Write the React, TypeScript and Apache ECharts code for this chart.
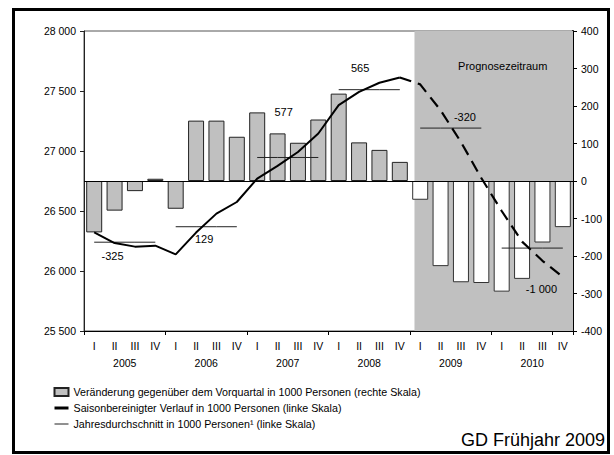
import React, { useEffect, useRef } from 'react';
import * as echarts from 'echarts';

// ---------- data ----------
const quarterLabels = ['I', 'II', 'III', 'IV'];
const years = ['2005', '2006', '2007', '2008', '2009', '2010'];
const forecastStartIndex = 16; // 2009 I
const shadeStart = 16.22; // x position (in quarters) where the forecast shading begins
const shadeEnd = 24;

// change vs previous quarter, 1000 persons (right axis)
const changeValues = [
  -137, -79, -27, 6,
  -74, 161, 161, 118,
  183, 127, 102, 164,
  233, 103, 83, 51,
  -50, -227, -270, -272,
  -295, -261, -164, -123,
];

// seasonally adjusted level, 1000 persons (left axis)
const levelHistory = [
  26322, 26233, 26203, 26211,
  26139, 26320, 26478, 26575,
  26770, 26876, 26992, 27146,
  27382, 27493, 27569, 27613,
];
const levelForecast = [
  27555, 27340, 27075, 26775,
  26500, 26245, 26085, 25950,
];

// annual averages (left axis) and their annotated change
const annualAvg = [26240, 26369, 26946, 27511, 27191, 26191];
const annualChangeLabels = ['-325', '129', '577', '565', '-320', '-1 000'];

// ---------- layout of annotation labels (style only) ----------
const avgLabelLayout = [
  { q: 1, pos: 'bottom', dist: 8, dx: -2 },
  { q: 1, pos: 'bottom', dist: 7, dx: 8 },
  { q: 1, pos: 'top', dist: 40, dx: 6 },
  { q: 1, pos: 'top', dist: 16, dx: 1 },
  { q: 2, pos: 'top', dist: 6, dx: 4 },
  { q: 2, pos: 'bottom', dist: 35, dx: -1 },
];

const FONT = '"Liberation Sans", Arial, sans-serif';
const barName = 'Veränderung gegenüber dem Vorquartal in 1000 Personen (rechte Skala)';
const lineName = 'Saisonbereinigter Verlauf in 1000 Personen (linke Skala)';
const avgName = 'Jahresdurchschnitt in 1000 Personen¹ (linke Skala)';

const categories: string[] = [];
years.forEach(() => quarterLabels.forEach((q) => categories.push(q)));

const fmtThousands = (v: number) =>
  String(v).replace(/\B(?=(\d{3})+(?!\d))/g, ' ');

function buildOption(): any {
  const barData = changeValues.map((v, i) =>
    i >= forecastStartIndex
      ? { value: v, itemStyle: { color: '#ffffff', borderColor: '#333', borderWidth: 1 } }
      : { value: v }
  );
  const solidData = categories.map((_, i) => (i < levelHistory.length ? levelHistory[i] : null));
  const dashedData = categories.map((_, i) => {
    if (i === levelHistory.length - 1) return levelHistory[i];
    if (i >= levelHistory.length) return levelForecast[i - levelHistory.length];
    return null;
  });

  const avgSeries = annualAvg.map((avg, y) => {
    const lay = avgLabelLayout[y];
    return {
      type: 'line',
      name: avgName,
      xAxisIndex: 0,
      yAxisIndex: 0,
      symbol: 'none',
      z: 4,
      silent: true,
      lineStyle: { color: '#222', width: 1 },
      itemStyle: { color: '#222' },
      data: categories.map((_, i) => {
        if (Math.floor(i / 4) !== y) return null;
        if (i === y * 4 + lay.q) {
          return {
            value: avg,
            symbol: 'circle',
            symbolSize: 0,
            label: {
              show: true,
              position: lay.pos,
              distance: lay.dist,
              offset: [lay.dx, 0],
              formatter: annualChangeLabels[y],
              color: '#000',
              fontSize: 11,
              fontFamily: FONT,
            },
          };
        }
        return avg;
      }),
    };
  });

  return {
    animation: false,
    backgroundColor: '#ffffff',
    textStyle: { fontFamily: FONT },
    grid: {
      left: 84,
      right: 41,
      top: 31,
      bottom: 124,
      show: true,
      borderColor: '#555',
      borderWidth: 1,
      backgroundColor: 'transparent',
    },
    legend: {
      orient: 'vertical',
      left: 53,
      top: 386,
      padding: 0,
      itemWidth: 14,
      itemHeight: 8,
      itemGap: 4,
      selectedMode: false,
      textStyle: { fontSize: 10.7, color: '#000', fontFamily: FONT, lineHeight: 12 },
      data: [
        { name: barName, icon: 'rect' },
        { name: lineName, itemStyle: { opacity: 0 }, lineStyle: { width: 3, color: '#000' } },
        { name: avgName, itemStyle: { opacity: 0 }, lineStyle: { width: 1, color: '#222' } },
      ],
    },
    xAxis: [
      {
        type: 'category',
        data: categories,
        position: 'bottom',
        boundaryGap: true,
        axisLine: { onZero: false, lineStyle: { color: '#000', width: 1 } },
        axisTick: { show: true, interval: 3, length: 4, lineStyle: { color: '#000' } },
        axisLabel: { interval: 0, margin: 9, color: '#000', fontSize: 10.5, fontFamily: FONT },
        splitLine: { show: false },
      },
      {
        type: 'category',
        data: years,
        position: 'bottom',
        boundaryGap: true,
        axisLine: { show: false, onZero: false },
        axisTick: { show: false },
        axisLabel: { interval: 0, margin: 26, color: '#000', fontSize: 10.5, fontFamily: FONT },
        splitLine: { show: false },
      },
      {
        type: 'value',
        min: 0,
        max: shadeEnd,
        show: false,
        axisLine: { onZero: false },
        splitLine: { show: false },
      },
    ],
    yAxis: [
      {
        type: 'value',
        position: 'left',
        min: 25500,
        max: 28000,
        interval: 500,
        axisLine: { show: true, onZero: false, lineStyle: { color: '#222', width: 1 } },
        axisTick: { show: true, length: 4, lineStyle: { color: '#222' } },
        axisLabel: { margin: 8, color: '#000', fontSize: 10.5, fontFamily: FONT, formatter: (v: number) => fmtThousands(v) },
        splitLine: { show: false },
      },
      {
        type: 'value',
        position: 'right',
        min: -400,
        max: 400,
        interval: 100,
        axisLine: { show: true, onZero: false, lineStyle: { color: '#000', width: 2 } },
        axisTick: { show: true, length: 4, lineStyle: { color: '#000' } },
        axisLabel: { margin: 8, color: '#000', fontSize: 10.5, fontFamily: FONT, align: 'left' },
        splitLine: { show: false },
      },
    ],
    series: [
      {
        type: 'line',
        name: 'Prognosezeitraum',
        xAxisIndex: 2,
        yAxisIndex: 0,
        data: [],
        z: 1,
        silent: true,
        markArea: {
          silent: true,
          itemStyle: { color: '#c0c0c0' },
          label: {
            show: true,
            position: 'insideTop',
            distance: 29,
            offset: [9, 0],
            color: '#000',
            fontSize: 11,
            fontFamily: FONT,
          },
          data: [[{ xAxis: shadeStart, name: 'Prognosezeitraum' }, { xAxis: shadeEnd }]],
        },
      },
      {
        type: 'bar',
        name: barName,
        xAxisIndex: 0,
        yAxisIndex: 1,
        barWidth: 16,
        z: 2,
        itemStyle: { color: '#c0c0c0', borderColor: '#222', borderWidth: 1 },
        data: barData,
        markLine: {
          silent: true,
          symbol: 'none',
          label: { show: false },
          lineStyle: { color: '#000', width: 1.2, type: 'solid' },
          data: [{ yAxis: 0 }],
        },
      },
      {
        type: 'line',
        name: lineName,
        xAxisIndex: 0,
        yAxisIndex: 0,
        symbol: 'none',
        z: 5,
        lineStyle: { color: '#000', width: 2 },
        itemStyle: { color: '#000' },
        data: solidData,
      },
      {
        type: 'line',
        name: 'Prognose',
        xAxisIndex: 0,
        yAxisIndex: 0,
        symbol: 'none',
        z: 5,
        lineStyle: { color: '#000', width: 2.2, type: [12, 7] },
        itemStyle: { color: '#000' },
        data: dashedData,
      },
      ...avgSeries,
    ],
    graphic: [
      {
        type: 'rect',
        z: 100,
        silent: true,
        shape: { x: 13.5, y: 9.5, width: 595, height: 443 },
        style: { fill: 'none', stroke: '#000', lineWidth: 3 },
      },
      {
        type: 'text',
        z: 100,
        right: 9,
        top: 431,
        style: { text: 'GD Frühjahr 2009', fontSize: 18, fill: '#000', fontFamily: FONT },
      },
    ],
  };
}

export default function App() {
  const ref = useRef<HTMLDivElement>(null);
  useEffect(() => {
    if (!ref.current) return;
    const chart = echarts.init(ref.current, null, { renderer: 'svg' });
    chart.setOption(buildOption());
    return () => chart.dispose();
  }, []);
  return (
    <div
      ref={ref}
      style={{ position: 'fixed', left: 0, top: 0, width: 614, height: 455, background: '#fff' }}
    />
  );
}
